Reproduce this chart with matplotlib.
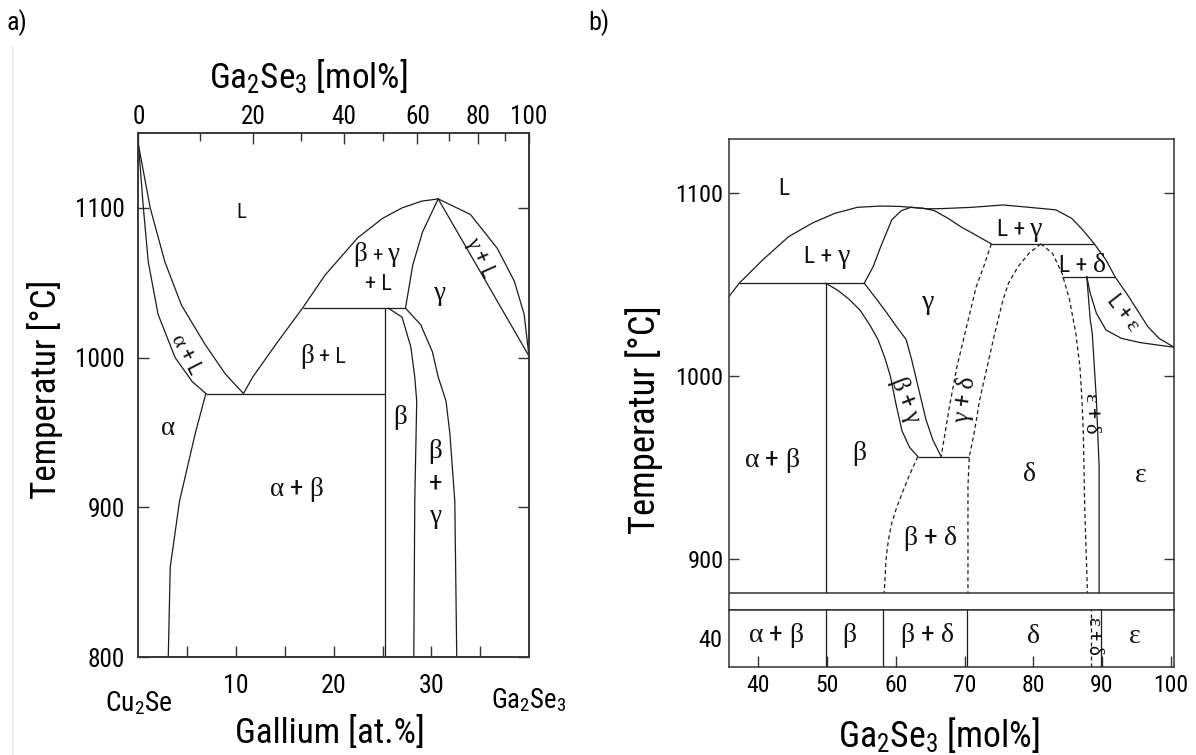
import numpy as np
import matplotlib
matplotlib.use("Agg")
import matplotlib.pyplot as plt
from matplotlib import font_manager as fm
from matplotlib.lines import Line2D
from matplotlib.offsetbox import TextArea, HPacker, AnnotationBbox


def pick_narrow():
    # an Arial-Narrow look-alike if there is one, else plain Liberation Sans
    names = {f.name for f in fm.fontManager.ttflist}
    for p in ["Liberation Sans Narrow", "Arial Narrow", "Roboto Condensed",
              "Noto Sans Condensed", "Open Sans Condensed"]:
        if p in names:
            return p, True
    return "Liberation Sans", False


SANS, NARROW = pick_narrow()
F = 1.1 if NARROW else 1.0           # narrow glyphs -> a bit larger size
plt.rcParams.update({
    "font.family": [SANS, "DejaVu Sans"],
    "mathtext.fontset": "custom",
    "mathtext.rm": SANS,
    "mathtext.it": "Liberation Serif",     # upright serif greek, like the Symbol font
    "mathtext.bf": SANS,
    "mathtext.sf": SANS,
})

LC = "#1c1c1c"   # boundary colour
SC = "#333333"   # frame colour
G = 19.5         # greek label size

# ---------------- (a) Cu2Se - Ga2Se3, x in at.% Ga ----------------
a_liq_alpha_x = [0, 1.2, 2.7, 4.4, 6.8, 8.9, 10.75]
a_liq_alpha_T = [1142, 1100, 1064, 1035, 1009, 989, 976]
a_sol_alpha_x = [0, 0.5, 1.0, 2.0, 3.75, 5.5, 6.9]
a_sol_alpha_T = [1142, 1100, 1064, 1029, 1000, 984, 976]
a_solv_alpha_x = [6.9, 5.8, 4.2, 3.25, 3.05]
a_solv_alpha_T = [976, 949, 904, 860, 800]
a_eut_T, a_eut_x = 976, [6.9, 25.2]
a_liq_beta_x = [10.75, 11.7, 14.2, 16.8, 19.1, 22.45, 25.0, 27.0, 29.0, 30.7]
a_liq_beta_T = [976, 987, 1010, 1033, 1055, 1080, 1093, 1100, 1104.5, 1106]
a_per_T, a_per_x = 1033, [16.8, 27.35]
a_beta_x, a_beta_T = 25.2, [800, 1033]
a_gam_liq_x = [27.35, 28.1, 29.1, 30.7]
a_gam_liq_T = [1033, 1062, 1084, 1106]
a_beta_solv_x = [25.6, 27.0, 27.9, 28.3, 28.5, 28.3, 28.2]
a_beta_solv_T = [1033, 1027, 1007, 987, 971, 904, 800]
a_gam_solv_x = [27.35, 28.9, 30.1, 30.7, 31.5, 31.9, 32.4, 32.6]
a_gam_solv_T = [1033, 1022, 1004, 987, 971, 949, 904, 800]
a_gl_liq_x = [30.7, 34.0, 36.75, 38.5, 39.5, 40.0]
a_gl_liq_T = [1106, 1095.6, 1073, 1051, 1029, 1001]
a_gl_sol_x = [30.7, 40.0]
a_gl_sol_T = [1106, 1001]

a_xticks_major = [10, 20, 30]
a_xticks_minor = [5, 15, 25, 35]
a_yticks = [800, 900, 1000, 1100]
a_mol_major = [0, 20, 40, 60, 80, 100]
a_mol_minor = [10, 30, 50, 70, 90]

# labels: (x, T, pieces [(text, size)], rotation)
a_labels = [
    (10.5, 1097, [("L", 15)], 0),
    (24.4, 1069, [(r"$\beta$", G), ("+", 15), (r"$\gamma$", G)], 0),
    (24.6, 1049, [("+ L", 16)], 0),
    (30.9, 1042, [(r"$\gamma$", G)], 0),
    (35.0, 1067, [(r"$\gamma$ + L", 16)], -66),
    (4.9, 1002, [(r"$\alpha$ + L", 16)], -63),
    (18.9, 1001, [(r"$\beta$", G), ("+ L", 16)], 0),
    (3.05, 953, [(r"$\alpha$", G)], 0),
    (26.8, 960, [(r"$\beta$", G)], 0),
    (16.2, 912, [(r"$\alpha$ + $\beta$", G)], 0),
    (30.4, 937, [(r"$\beta$", G)], 0),
    (30.4, 916, [("+", G)], 0),
    (30.4, 893, [(r"$\gamma$", G)], 0),
]

# ---------------- (b) enlarged part, x in mol% Ga2Se3 ----------------
b_liq_x = [35.7, 37.2, 40.6, 44.4, 47.8, 51.1, 54.4, 57.8, 60.5, 62.2, 64.5, 66.7,
           71.1, 75.6, 79.4, 83.3, 85.6, 87.2, 88.9, 90.6, 91.9, 93.9, 96.7, 98.3, 100.5]
b_liq_T = [1043.5, 1050.8, 1063.5, 1076.3, 1083.6, 1089, 1092.3, 1093, 1092.8, 1092.3,
           1091.5, 1091.6, 1092.3, 1093.6, 1092.3, 1090.9, 1086.3, 1080, 1072.3, 1063.5,
           1054.4, 1043.5, 1027, 1020.7, 1015.8]
b_tie1_T, b_tie1_x = 1050.8, [37.2, 55.4]
b_tie2_T, b_tie2_x = 1072.3, [73.9, 88.9]
b_tie3_T, b_tie3_x = 1054.4, [84.2, 91.9]
b_eutd_T, b_eutd_x = 956, [63.2, 70.6]
b_ab_x, b_ab_T = 49.8, [881.4, 1050.8]
b_gam_l_x = [55.4, 56.7, 57.8, 59.4, 60.8, 62.2]
b_gam_l_T = [1050.8, 1059.9, 1070.8, 1085.4, 1090.5, 1092.3]
b_gam_r_x = [62.2, 64.0, 65.6, 67.5, 69.4, 71.7, 73.9]
b_gam_r_T = [1092.3, 1091.8, 1090.5, 1086.5, 1081.8, 1077, 1072.3]
b_bg_l_x = [49.8, 51.5, 53.2, 54.8, 56.2, 57.4, 58.4, 59.2, 60.0, 60.9, 62.0, 63.2]
b_bg_l_T = [1050.8, 1047, 1042, 1036, 1028, 1020, 1010, 1000, 985, 970, 961, 956]
b_bg_r_x = [55.4, 57.0, 58.6, 60.1, 61.5, 62.3, 63.0, 63.7, 64.4, 65.4, 66.6]
b_bg_r_T = [1050.8, 1043, 1035, 1027, 1020, 1009, 998, 987, 976, 965, 956]
b_eps_solv_x = [87.8, 88.3, 88.6, 89.2, 89.6, 89.6]
b_eps_solv_T = [1054.4, 1031, 1023.4, 986.9, 950.5, 881.4]
b_eps_sol_x = [87.8, 88.3, 89.2, 90.6, 92.8, 95.6, 98.3, 100.5]
b_eps_sol_T = [1054.4, 1045.3, 1034.4, 1025.2, 1020.7, 1018.3, 1016.9, 1015.8]
# dashed (uncertain) boundaries
b_bd_x = [63.2, 62.0, 61.1, 60.1, 59.4, 58.9, 58.6, 58.3]
b_bd_T = [956, 946, 937.7, 928, 919.5, 910, 901, 881.4]
b_gd_x = [73.9, 72.8, 71.7, 70.3, 68.9, 67.8, 66.6]
b_gd_T = [1072.3, 1059.9, 1048.9, 1027, 1005.2, 983.3, 956]
b_del_l_x = [81.1, 79.4, 77.8, 76.4, 75.6, 74.4, 73.3, 72.2, 71.4, 70.7, 70.5, 70.5]
b_del_l_T = [1072.3, 1067.2, 1059.9, 1050.8, 1041.6, 1023.4, 1005.2, 986.9, 968.7, 956, 940, 881.4]
b_del_r_x = [81.1, 82.8, 84.2, 85.3, 86.2, 86.8, 87.1, 87.3, 87.5, 87.9]
b_del_r_T = [1072.3, 1067.2, 1056.2, 1041.6, 1023.4, 1005.2, 986.9, 968.7, 928.6, 881.4]
b_break_T = 881.4

# 40 degC strip
s_solid_x = [49.9, 58.1, 70.4, 89.9]
s_dash_x = [88.4]
b_xticks = [40, 50, 60, 70, 80, 90, 100]
b_yticks = [900, 1000, 1100]

b_labels = [
    (43.7, 1102.7, [("L", 17)], 0),
    (50.0, 1065.4, [("L +", 17), (r"$\gamma$", 20)], 0),
    (64.7, 1039.8, [(r"$\gamma$", 20)], 0),
    (78.1, 1080, [("L +", 17), (r"$\gamma$", 20)], 0),
    (87.2, 1060.8, [("L +", 17), (r"$\delta$", 20)], 0),
    (93.1, 1034.4, [(r"L + $\epsilon$", 16)], -52),
    (61.4, 987, [(r"$\beta$ + $\gamma$", 18)], -69),
    (70.0, 987, [(r"$\gamma$ + $\delta$", 18)], 82),
    (88.55, 979.6, [(r"$\epsilon$ + $\delta$", 16)], -90),
    (41.9, 954.1, [(r"$\alpha$ + $\beta$", 20)], 0),
    (54.7, 957.8, [(r"$\beta$", 20)], 0),
    (79.4, 946.9, [(r"$\delta$", 20)], 0),
    (95.6, 946, [(r"$\epsilon$", 20)], 0),
    (65.0, 911.3, [(r"$\beta$ + $\delta$", 20)], 0),
]
s_labels = [
    (42.5, r"$\alpha$ + $\beta$", 20, 0),
    (53.3, r"$\beta$", 20, 0),
    (64.6, r"$\beta$ + $\delta$", 20, 0),
    (80.0, r"$\delta$", 20, 0),
    (88.9, r"$\epsilon$ + $\delta$", 15, -90),
    (94.7, r"$\epsilon$", 20, 0),
]


def at_from_mol(m):
    m = np.asarray(m, float)
    return 200 * m / (300 + 2 * m)


def frame(ax):
    for sp in ax.spines.values():
        sp.set_color(SC); sp.set_linewidth(1.1)


def lab(ax, x, y, pieces, rot=0):
    # several sizes in one label (big greek, small "L")
    if len(pieces) == 1 or rot:
        s, size = pieces[0]
        ax.text(x, y, s, rotation=rot, rotation_mode="anchor", ha="center",
                va="center", fontsize=size, color="#111111")
        return
    kids = [TextArea(s, textprops=dict(fontsize=size, color="#111111")) for s, size in pieces]
    box = HPacker(children=kids, align="baseline", pad=0, sep=3)
    ax.add_artist(AnnotationBbox(box, (x, y), xycoords="data", frameon=False,
                                 box_alignment=(0.5, 0.5), pad=0))


fig = plt.figure(figsize=(11.96, 7.55), dpi=100)

# ======================= panel a =======================
ax = fig.add_axes([0.1158, 0.1298, 0.3265, 0.694])
kw = dict(color=LC, lw=0.9)
ax.plot(a_liq_alpha_x, a_liq_alpha_T, **kw)
ax.plot(a_sol_alpha_x, a_sol_alpha_T, **kw)
ax.plot(a_solv_alpha_x, a_solv_alpha_T, **kw)
ax.hlines(a_eut_T, *a_eut_x, **kw)
ax.plot(a_liq_beta_x, a_liq_beta_T, **kw)
ax.hlines(a_per_T, *a_per_x, **kw)
ax.vlines(a_beta_x, *a_beta_T, **kw)
ax.plot(a_gam_liq_x, a_gam_liq_T, **kw)
ax.plot(a_beta_solv_x, a_beta_solv_T, **kw)
ax.plot(a_gam_solv_x, a_gam_solv_T, **kw)
ax.plot(a_gl_liq_x, a_gl_liq_T, **kw)
ax.plot(a_gl_sol_x, a_gl_sol_T, **kw)
for x, y, p, r in a_labels:
    lab(ax, x, y, p, r)

ax.set_xlim(0, 40); ax.set_ylim(800, 1150)
frame(ax)
ax.set_xticks(a_xticks_major); ax.set_xticks(a_xticks_minor, minor=True)
ax.set_yticks(a_yticks)
ax.tick_params(axis="x", which="both", direction="in", length=8, width=1, color=SC,
               labelsize=17 * F, pad=12)
ax.tick_params(axis="y", direction="in", length=8, width=1, color=SC, right=True,
               labelsize=16.5 * F, pad=10)
ax.set_xlabel("Gallium [at.%]", fontsize=23 * F)
ax.xaxis.set_label_coords(0.49, -0.112)
ax.set_ylabel("Temperatur [°C]", fontsize=23 * F)
ax.yaxis.set_label_coords(-0.193, 0.51)
ax.text(0.0, -0.088, "Cu$_2$Se", transform=ax.transAxes, ha="center", va="center",
        fontsize=18 * F)
ax.text(1.0, -0.082, "Ga$_2$Se$_3$", transform=ax.transAxes, ha="center", va="center",
        fontsize=17.5 * F)

top = ax.twiny()
top.set_xlim(ax.get_xlim())
top.set_xticks(at_from_mol(a_mol_major))
top.set_xticklabels([str(m) for m in a_mol_major])
top.set_xticks(at_from_mol(a_mol_minor), minor=True)
top.tick_params(axis="x", which="major", direction="in", length=8, width=1, color=SC,
                labelsize=16.5 * F, pad=3)
top.tick_params(axis="x", which="minor", direction="in", length=6, width=1, color=SC)
top.set_xlabel("Ga$_2$Se$_3$ [mol%]", fontsize=23 * F)
top.xaxis.set_label_coords(0.434, 1.084)
frame(top)

# ======================= panel b =======================
bx = fig.add_axes([0.6095, 0.1921, 0.3721, 0.6234])
bx.plot(b_liq_x, b_liq_T, **kw)
bx.hlines(b_tie1_T, *b_tie1_x, **kw)
bx.hlines(b_tie2_T, *b_tie2_x, **kw)
bx.hlines(b_tie3_T, *b_tie3_x, **kw)
bx.hlines(b_eutd_T, *b_eutd_x, **kw)
bx.vlines(b_ab_x, *b_ab_T, **kw)
bx.plot(b_gam_l_x, b_gam_l_T, **kw)
bx.plot(b_gam_r_x, b_gam_r_T, **kw)
bx.plot(b_bg_l_x, b_bg_l_T, **kw)
bx.plot(b_bg_r_x, b_bg_r_T, **kw)
bx.plot(b_eps_solv_x, b_eps_solv_T, **kw)
bx.plot(b_eps_sol_x, b_eps_sol_T, **kw)
dkw = dict(color=LC, lw=0.9, ls=(0, (3.2, 2.4)))
bx.plot(b_bd_x, b_bd_T, **dkw)
bx.plot(b_gd_x, b_gd_T, **dkw)
bx.plot(b_del_l_x, b_del_l_T, **dkw)
bx.plot(b_del_r_x, b_del_r_T, **dkw)
bx.axhline(b_break_T, color=SC, lw=1.1)
for x, y, p, r in b_labels:
    lab(bx, x, y, p, r)

bx.set_xlim(35.7, 100.5); bx.set_ylim(872.1, 1129.5)
frame(bx)
bx.set_xticks([])
bx.set_yticks(b_yticks)
bx.tick_params(axis="y", direction="in", length=7, width=1, color=SC, right=True,
               labelsize=16 * F, pad=4)
bx.set_ylabel("Temperatur [°C]", fontsize=24 * F)
bx.yaxis.set_label_coords(-0.148, 0.404)

sx = fig.add_axes([0.6095, 0.1170, 0.3721, 0.0751])
for x in s_solid_x:
    sx.axvline(x, **kw)
for x in s_dash_x:
    sx.axvline(x, **dkw)
for x, s, size, r in s_labels:
    lab(sx, x, 0.55, [(s, size)], r)
sx.set_xlim(bx.get_xlim()); sx.set_ylim(0, 1)
frame(sx)
sx.set_xticks(b_xticks)
sx.set_yticks([0.5]); sx.set_yticklabels(["40"])
sx.tick_params(axis="x", direction="in", length=8, width=1, color=SC,
               labelsize=15.5 * F, pad=5)
sx.tick_params(axis="y", length=0, labelsize=16 * F, pad=5)
sx.set_xlabel("Ga$_2$Se$_3$ [mol%]", fontsize=23.4 * F)
sx.xaxis.set_label_coords(0.472, -0.85)

fig.text(7 / 1196, 1 - 23 / 755, "a)", fontsize=17 * F, ha="left", va="center")
fig.text(588 / 1196, 1 - 23 / 755, "b)", fontsize=17 * F, ha="left", va="center")
fig.add_artist(Line2D([12 / 1196] * 2, [0, 1 - 47 / 755], transform=fig.transFigure,
                      color="#e6e6e6", lw=1))

fig.savefig("out.png", dpi=100, facecolor="white")
